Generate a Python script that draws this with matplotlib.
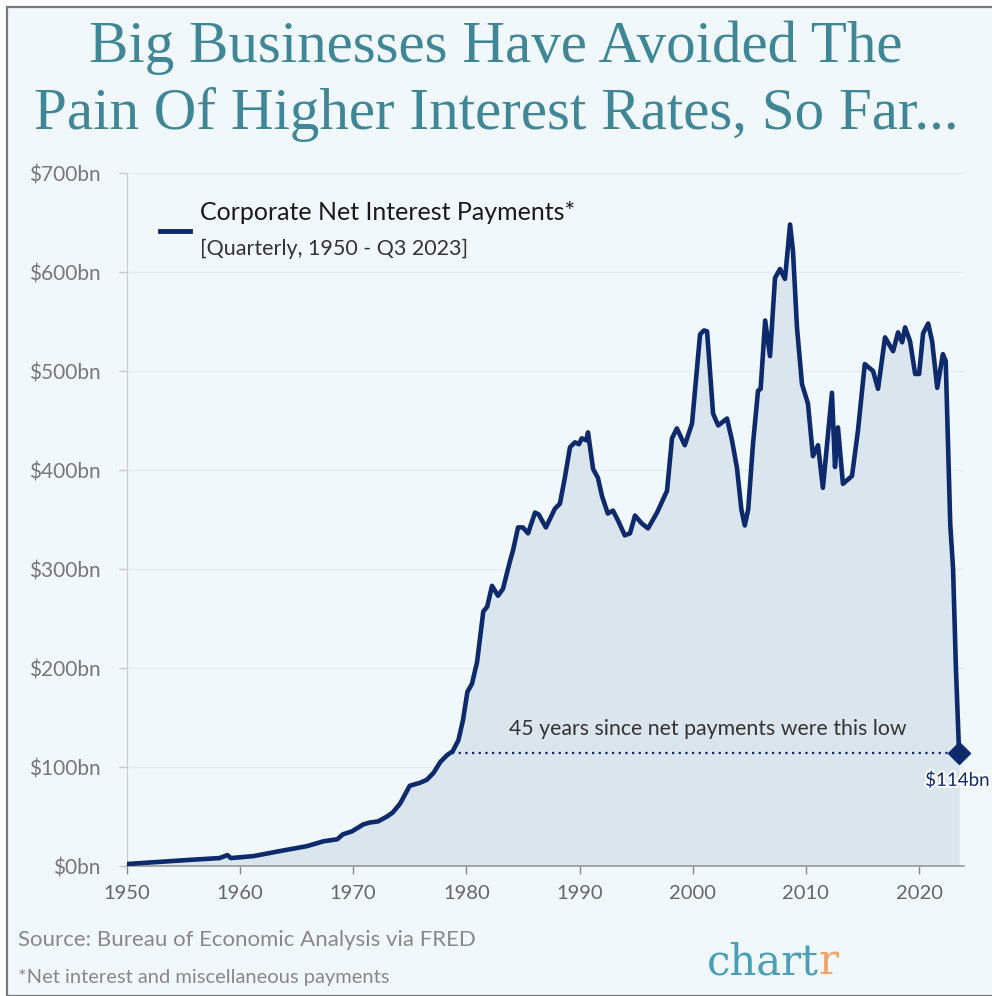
import matplotlib
matplotlib.use("Agg")
import matplotlib.pyplot as plt
from matplotlib.patches import Rectangle
import matplotlib.patheffects as pe

# Corporate net interest payments, $bn (quarterly series, key points)
years = [1950.0, 1952.0, 1955.3, 1958.2, 1958.9, 1959.2, 1961.2, 1963.5, 1965.9, 1967.4,
         1968.6, 1969.1, 1969.9, 1970.9, 1971.5, 1972.2, 1973.0, 1973.5, 1974.15, 1975.0,
         1975.9, 1976.5, 1977.1, 1977.7, 1978.3, 1978.8, 1979.3, 1979.7, 1980.1, 1980.5,
         1980.95, 1981.5, 1981.85, 1982.27, 1982.8, 1983.24, 1983.86, 1984.13, 1984.57, 1985.0,
         1985.45, 1986.07, 1986.4, 1987.03, 1987.83, 1988.27, 1988.7, 1989.16, 1989.6, 1989.95,
         1990.2, 1990.6, 1990.75, 1991.2, 1991.63, 1991.98, 1992.5, 1992.96, 1993.4, 1994.0,
         1994.46, 1994.9, 1995.5, 1996.05, 1996.85, 1997.73, 1998.17, 1998.6, 1999.3, 1999.94,
         2000.2, 2000.65, 2001.0, 2001.27, 2001.8, 2002.25, 2003.03, 2003.47, 2003.91, 2004.3,
         2004.6, 2004.9, 2005.33, 2005.77, 2006.0, 2006.4, 2006.83, 2007.27, 2007.71, 2008.15,
         2008.6, 2008.86, 2009.21, 2009.65, 2010.18, 2010.62, 2011.07, 2011.5, 2012.3, 2012.57,
         2012.83, 2013.27, 2014.07, 2014.6, 2015.2, 2015.93, 2016.37, 2016.99, 2017.7, 2018.14,
         2018.5, 2018.76, 2019.2, 2019.65, 2020.0, 2020.35, 2020.8, 2021.15, 2021.6, 2022.1,
         2022.35, 2022.75, 2023.0, 2023.25, 2023.53]
values = [2, 3.5, 6, 8, 11, 8, 10, 15, 20, 25,
          27, 32, 35, 42, 44, 45, 50, 54, 63, 81,
          84, 87, 94, 105, 112, 116, 127, 147, 176, 184,
          206, 257, 262, 283, 273, 280, 308, 319, 342, 342,
          336, 357, 355, 342, 361, 366, 392, 423, 428, 426,
          432, 430, 438, 401, 392, 374, 356, 359, 349, 334,
          336, 354, 346, 341, 357, 379, 432, 442, 425, 447,
          480, 537, 541, 540, 457, 445, 452, 430, 402, 360,
          344, 360, 427, 480, 482, 551, 515, 594, 603, 593,
          648, 621, 544, 487, 467, 414, 425, 382, 478, 403,
          443, 386, 394, 440, 507, 500, 482, 534, 520, 539,
          529, 544, 530, 497, 497, 538, 548, 530, 483, 517,
          510, 345, 300, 200, 114]

low_value = 114
low_since = 1978.7
y_ticks = [0, 100, 200, 300, 400, 500, 600, 700]
y_labels = ["$0bn", "$100bn", "$200bn", "$300bn", "$400bn", "$500bn", "$600bn", "$700bn"]
x_ticks = [1950, 1960, 1970, 1980, 1990, 2000, 2010, 2020]

NAVY = "#0c2a6c"
FILL = "#dbe5ee"
BG = "#f1f8fb"
TEAL = "#3f8797"
GREY = "#777777"

W, H = 992, 996
fig = plt.figure(figsize=(W / 100, H / 100), dpi=100)
fig.patch.set_facecolor("white")

# panel background with thin frame
fig.patches.append(Rectangle((7 / W, 0), 1, 1 - 7 / H, transform=fig.transFigure,
                             facecolor=BG, edgecolor="#7a7a7a", linewidth=1.6, zorder=-10))

ax = fig.add_axes([126.7 / W, 1 - 866 / H, (964.4 - 126.7) / W, (866 - 173) / H])
ax.set_zorder(1)
ax.set_facecolor(BG)
ax.set_xlim(1950, 2024.0)
ax.set_ylim(0, 700)

for v in y_ticks[1:]:
    ax.axhline(v, color="#e6eef2", lw=1.0, zorder=0)

ax.fill_between(years, values, 0, color=FILL, zorder=1, linewidth=0)
ax.plot(years, values, color=NAVY, lw=3.3, zorder=3, solid_joinstyle="round",
        solid_capstyle="round")

# low-point annotation
ax.plot([low_since, years[-1]], [low_value, low_value], color=NAVY, lw=1.6,
        linestyle=(0, (1, 2)), zorder=2)
ax.plot([years[-1]], [low_value], marker="D", color=NAVY, markersize=11, zorder=4,
        clip_on=False)
ax.text(2001.3, low_value + 24, "45 years since net payments were this low",
        ha="center", va="center", fontsize=15.3, color="#333333", family="Lato")
ax.text(years[-1] - 3.0, low_value - 27, f"${low_value}bn", ha="left", va="center",
        fontsize=13.5, color=NAVY, family="Lato", clip_on=False,
        path_effects=[pe.withStroke(linewidth=3, foreground="white")])

ax.set_yticks(y_ticks)
ax.set_yticklabels(y_labels)
ax.set_xticks(x_ticks)
ax.set_xticklabels([str(x) for x in x_ticks])
ax.tick_params(axis="y", length=6, width=1, color="#c8c8c8", pad=13,
               labelsize=15, labelcolor=GREY)
ax.tick_params(axis="x", length=6, width=1, color="#888888", pad=8,
               labelsize=14.5, labelcolor="#666666")
for lab in ax.get_xticklabels() + ax.get_yticklabels():
    lab.set_family("Lato")
for s in ["top", "right"]:
    ax.spines[s].set_visible(False)
ax.spines["left"].set_color("#cccccc")
ax.spines["bottom"].set_color("#999999")
ax.spines["bottom"].set_linewidth(1.2)

# legend
fig.add_artist(plt.Line2D([160 / W, 190 / W], [1 - 231 / H, 1 - 231 / H],
                          color=NAVY, lw=3.5, transform=fig.transFigure))
fig.text(200 / W, 1 - 212 / H, "Corporate Net Interest Payments*", ha="left", va="center",
         fontsize=18, color="#1a1a1a", family="Lato")
fig.text(200 / W, 1 - 249 / H, "[Quarterly, 1950 - Q3 2023]", ha="left", va="center",
         fontsize=15.5, color="#333333", family="Lato")

# title
fig.text(0.5, 1 - 48 / H, "Big Businesses Have Avoided The", ha="center", va="center",
         fontsize=42.5, color=TEAL, family="Liberation Serif")
fig.text(0.5, 1 - 115 / H, "Pain Of Higher Interest Rates, So Far...", ha="center", va="center",
         fontsize=42.5, color=TEAL, family="Liberation Serif")

# footer
fig.text(18 / W, 1 - 940 / H, "Source: Bureau of Economic Analysis via FRED", ha="left",
         va="center", fontsize=16, color="#888888", family="Lato")
fig.text(18 / W, 1 - 977 / H, "*Net interest and miscellaneous payments", ha="left",
         va="center", fontsize=14.5, color="#888888", family="Lato")
t1 = fig.text(707 / W, 1 - 962 / H, "chart", ha="left", va="center", fontsize=30,
              color="#4a9fb8", family="DejaVu Serif")
fig.canvas.draw()
bb = t1.get_window_extent()
fig.text(bb.x1 / W, 1 - 962 / H, "r", ha="left", va="center", fontsize=30,
         color="#f0a46a", family="DejaVu Serif")

fig.savefig("out.png", dpi=100, facecolor=fig.get_facecolor())
